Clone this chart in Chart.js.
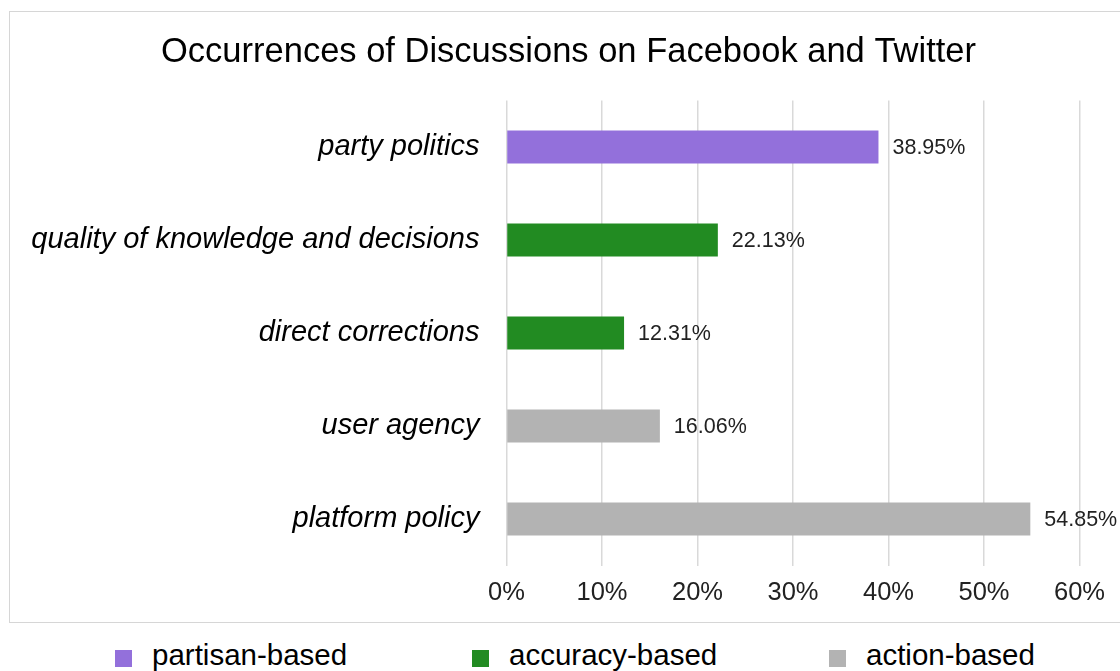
<!DOCTYPE html>
<html>
<head>
<meta charset="utf-8">
<script src="https://cdn.jsdelivr.net/npm/chart.js@4"></script>
<style>
  html, body { margin: 0; padding: 0; background: #fff; overflow: hidden; }
  body { width: 1120px; height: 671px; position: relative; font-family: "Liberation Sans", Arial, sans-serif; }
  #frame { position: absolute; left: 9px; top: 11px; width: 1120px; height: 612px; border: 1.5px solid #d6d6d6; box-sizing: border-box; }
  #frame canvas { display: block; }
  #legend { position: absolute; left: 115px; top: 638px; display: flex; }
  .item { width: 357px; display: flex; align-items: flex-start; font-size: 29.5px; line-height: 34px; height: 34px; color: #000; white-space: nowrap; }
  .box { width: 17px; height: 17px; margin-right: 20px; margin-top: 12px; flex: none; }
</style>
</head>
<body>
<div id="frame"><canvas id="chart" width="1117" height="609"></canvas></div>
<div id="legend"></div>
<script>
// categorieen, van boven naar beneden
const categories = ['party politics', 'quality of knowledge and decisions', 'direct corrections', 'user agency', 'platform policy'];
// waarden per groep (null = geen balk in die rij)
const partisan = [38.95, null, null, null, null];
const accuracy = [null, 22.13, 12.31, null, null];
const action = [null, null, null, 16.06, 54.85];
const groupLabels = ['partisan-based', 'accuracy-based', 'action-based'];
const groupColors = ['#9370db', '#228b22', '#b3b3b3'];
const xTicks = [0, 10, 20, 30, 40, 50, 60];

const font = '"Liberation Sans", Arial, sans-serif';

// percentage rechts naast elke balk zetten
const valueLabels = {
  id: 'valueLabels',
  afterDatasetsDraw(chart) {
    const ctx = chart.ctx;
    ctx.save();
    ctx.font = '21.5px ' + font;
    ctx.fillStyle = '#222';
    ctx.textAlign = 'left';
    ctx.textBaseline = 'middle';
    chart.data.datasets.forEach((ds, i) => {
      const meta = chart.getDatasetMeta(i);
      meta.data.forEach((bar, j) => {
        const v = ds.data[j];
        if (v === null) return;
        ctx.fillText(v.toFixed(2) + '%', bar.x + 14, bar.y + 1);
      });
    });
    ctx.restore();
  }
};

const sets = [partisan, accuracy, action].map((d, i) => ({
  label: groupLabels[i],
  data: d,
  backgroundColor: groupColors[i],
  borderWidth: 0,
  barPercentage: 0.355,
  categoryPercentage: 1
}));

const chart = new Chart(document.getElementById('chart'), {
  type: 'bar',
  data: { labels: categories, datasets: sets },
  options: {
    indexAxis: 'y',
    responsive: false,
    animation: false,
    grouped: false,
    skipNull: true,
    layout: { padding: { left: 10, right: 10, top: 0, bottom: 0 } },
    plugins: {
      legend: { display: false },
      tooltip: { enabled: false },
      title: {
        display: true,
        text: 'Occurrences of Discussions on Facebook and Twitter',
        color: '#000',
        font: { family: font, size: 34.5, weight: 'normal' },
        padding: { top: 20, bottom: 27 }
      }
    },
    scales: {
      x: {
        min: 0,
        max: 60,
        afterBuildTicks(axis) { axis.ticks = xTicks.map(v => ({ value: v })); },
        // ruimte rechts voor het 60%-label
        afterFit(axis) { axis.paddingRight = 47.5; },
        grid: { color: '#d9d9d9', lineWidth: 1.5, drawTicks: false },
        border: { display: false },
        ticks: {
          color: '#222',
          padding: 15,
          font: { family: font, size: 25.5, lineHeight: 1 },
          callback: v => v + '%'
        }
      },
      y: {
        // vaste breedte zodat de 0%-lijn op de goede plek staat
        afterFit(axis) { axis.width = 486.5; },
        grid: { display: false },
        border: { display: false },
        ticks: {
          color: '#000',
          padding: 19,
          font: { family: font, size: 29, style: 'italic' }
        }
      }
    }
  },
  plugins: [valueLabels]
});

// legenda onder het kader
const legend = document.getElementById('legend');
groupLabels.forEach((name, i) => {
  const item = document.createElement('div');
  item.className = 'item';
  const box = document.createElement('span');
  box.className = 'box';
  box.style.background = groupColors[i];
  item.appendChild(box);
  item.appendChild(document.createTextNode(name));
  legend.appendChild(item);
});
</script>
</body>
</html>
